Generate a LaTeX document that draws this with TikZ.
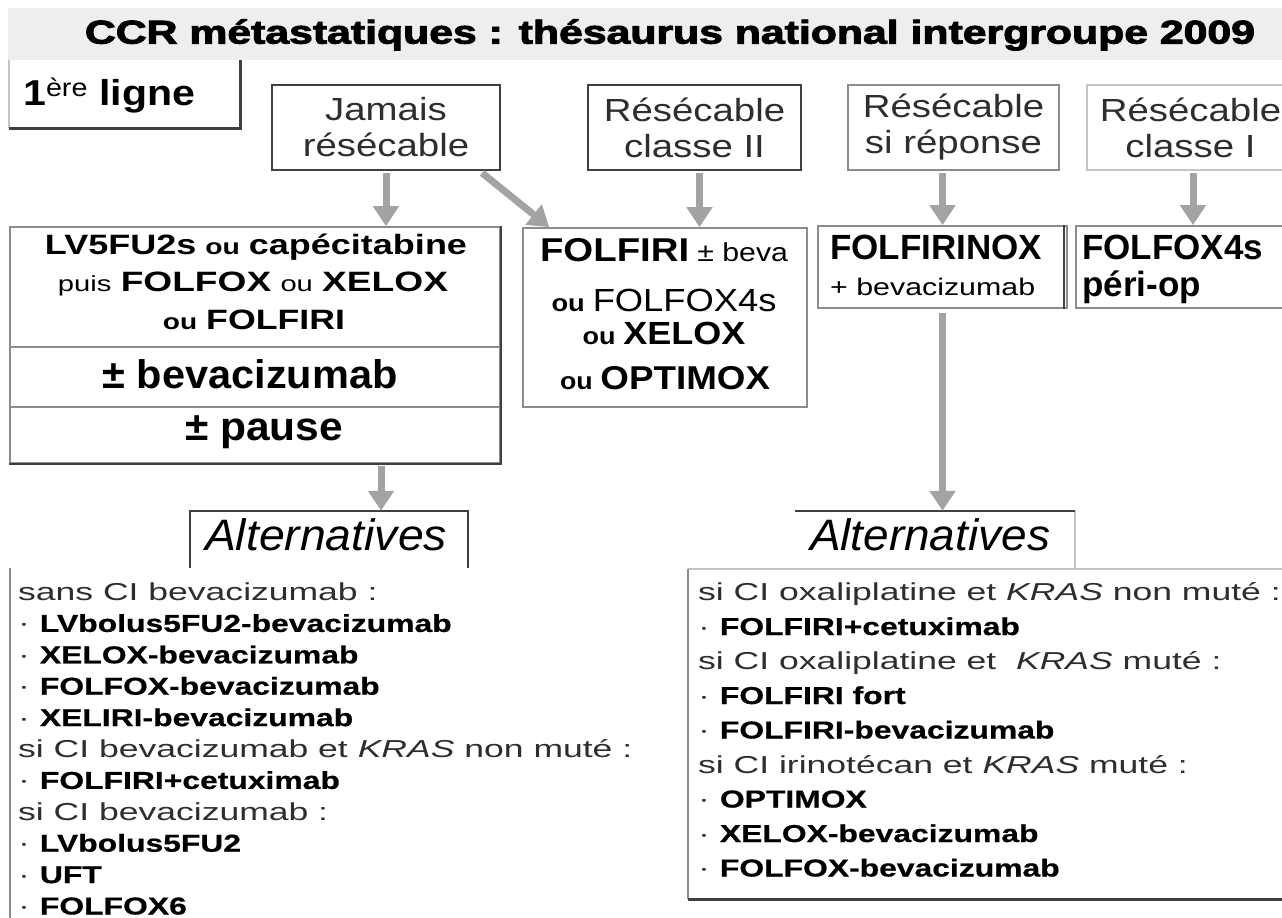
\documentclass[tikz,border=0pt]{standalone}
\usepackage{fontspec}
\usepackage{graphicx}
\setmainfont{Liberation Sans}
\newfontfamily\lstfont[FakeStretch=1.45]{Liberation Sans}
\newfontfamily\lstbfont[FakeStretch=1.3,FakeBold=0.6]{Liberation Sans}
\newfontfamily\wfont[FakeStretch=1.2]{Liberation Sans}
\newfontfamily\ttlfont[FakeBold=2.5]{Liberation Sans}
\usetikzlibrary{arrows.meta}
\newcommand\hw[2]{\resizebox{#1pt}{\height}{#2}}
\newcommand\fsz[1]{\fontsize{#1}{#1}\selectfont}
\newcommand\bu[1]{·\ {\lstbfont\bfseries\color{black}#1}}
\newcommand\gap{\hspace{7pt}}
\definecolor{edge}{HTML}{404040}
\definecolor{mid}{HTML}{8C8C8C}
\definecolor{light}{HTML}{C4C4C4}
\definecolor{arrowc}{HTML}{A3A3A3}
\definecolor{band}{HTML}{EEEEEE}
\definecolor{txt}{HTML}{2E2E2E}
\begin{document}
\begin{tikzpicture}[x=1pt,y=-1pt,
  box/.style={draw=edge, line width=1.8pt, inner sep=0pt},
  hid/.style={inner sep=0pt},
  lbl/.style={inner sep=0pt, align=center},
  arr/.style={draw=arrowc, line width=7pt, -{Triangle[length=20pt,width=25pt]}},
  lst/.style={inner sep=0pt, anchor=base west, font=\lstfont\fsz{24.5}, text=txt}]

\useasboundingbox (0,0) rectangle (1282,918);
\fill[white] (0,0) rectangle (1282,918);

% title band
\node[hid, fill=band, minimum width=1274pt, minimum height=52pt] (band) at (645,34) {};
\node[lbl] (title) at (670,35) {\hw{1170}{\ttlfont\bfseries\fsz{33}CCR métastatiques : thésaurus national intergroupe 2009}};

% 1ere ligne
\node[hid, minimum width=231pt, minimum height=68pt] (first) at (124.5,94) {};
\draw[light, line width=1.6pt] (first.north west) -- (first.south west);
\draw[edge, line width=2.6pt] (first.south west) -- (first.south east) -- (first.north east);
\node[lbl, anchor=west] (firstt) at (23,96) {\hw{172}{\bfseries\fsz{36}1\textsuperscript{\mdseries ère} ligne}};

% top boxes
\node[box, minimum width=228pt, minimum height=85pt] (jam) at (386,127.5) {};
\node[box, minimum width=213pt, minimum height=85pt] (c2) at (694.5,127.5) {};
\node[box, draw=mid, minimum width=211pt, minimum height=85pt] (rep) at (953.5,127.5) {};
\node[box, draw=light, minimum width=223pt, minimum height=85pt] (c1) at (1198.5,127.5) {};
\foreach \n/\a/\b in {jam/Jamais/résécable, c2/Résécable/classe II, rep/Résécable/si réponse}
  \node[lbl, font=\wfont\fontsize{32}{36}\selectfont, text=txt] (\n t) at (\n.center) {\a\\\b};
\node[lbl, font=\wfont\fontsize{32}{36}\selectfont, text=txt] (c1t) at ([xshift=-8pt]c1.center) {Résécable\\classe I};

% first-line regimens
\node[box, draw=mid, minimum width=490pt, minimum height=236pt] (lv) at (255,345) {};
\draw[mid, line width=1.8pt] (lv.west |- 0,347) -- (lv.east |- 0,347);
\draw[mid, line width=1.8pt] (lv.west |- 0,407) -- (lv.east |- 0,407);
\draw[edge, line width=2.4pt] (lv.south west) -- (lv.south east) -- (lv.north east);
\node[lbl] (lv1) at (256,247) {\hw{422}{\bfseries\fsz{28}LV5FU2s\gap{\fsz{22}ou}\gap capécitabine}};
\node[lbl] (lv2) at (253,284) {\hw{390}{{\fsz{22}puis}\gap{\bfseries\fsz{28}FOLFOX}\gap{\fsz{22}ou}\gap{\bfseries\fsz{28}XELOX}}};
\node[lbl] (lv3) at (254,320) {\hw{182}{{\bfseries\fsz{22}ou}\gap{\bfseries\fsz{28}FOLFIRI}}};
\node[lbl] (lv4) at (250,374) {\hw{295}{\bfseries\fsz{40}± bevacizumab}};
\node[lbl] (lv5) at (264,432) {\hw{158}{\bfseries\fsz{40}± pause}};

\node[box, draw=mid, minimum width=284pt, minimum height=179pt] (ffi) at (665,317.5) {};
\node[lbl] (ffi1) at (664,250) {\hw{248}{{\bfseries\fsz{33}FOLFIRI}\gap{\fsz{26}± beva}}};
\node[lbl] (ffi2) at (664,300) {\hw{225}{{\bfseries\fsz{24}ou}\gap{\fsz{32}FOLFOX4s}}};
\node[lbl] (ffi3) at (664,333) {\hw{163}{{\bfseries\fsz{24}ou}\gap{\bfseries\fsz{32}XELOX}}};
\node[lbl] (ffi4) at (665,378) {\hw{210}{{\bfseries\fsz{24}ou}\gap{\bfseries\fsz{33}OPTIMOX}}};

\node[box, draw=mid, minimum width=249pt, minimum height=82pt] (fnx) at (942.5,267) {};
\draw[edge, line width=1.6pt] ([xshift=-4pt]fnx.north east) -- ([xshift=-4pt]fnx.south east);
\node[lbl, anchor=west] (fnx1) at (830,247) {\bfseries\fsz{35}FOLFIRINOX};
\node[lbl, anchor=west] (fnx2) at (830,287) {\hw{205}{\fsz{24}+ bevacizumab}};

\node[box, draw=mid, minimum width=234pt, minimum height=82pt] (fx4) at (1193,267) {};
\node[lbl, anchor=west] (fx41) at (1082,247) {\bfseries\fsz{35}FOLFOX4s};
\node[lbl, anchor=west] (fx42) at (1082,287) {\bfseries\fsz{35}péri-op};

% alternatives tabs
\node[hid, minimum width=278pt, minimum height=57pt] (altL) at (329,539.5) {};
\draw[edge, line width=1.8pt] (altL.south west) -- (altL.north west) -- (altL.north east) -- (altL.south east);
\node[lbl] (altLt) at (326,535) {\hw{242}{\itshape\fsz{44}Alternatives}};

\node[hid, minimum width=280pt, minimum height=58pt] (altR) at (935,540) {};
\draw[light, line width=1.6pt] (altR.south west) -- (altR.south east) -- (altR.north east);
\draw[edge, line width=1.8pt] (altR.north west) -- (altR.north east);
\node[lbl] (altRt) at (930,535) {\hw{240}{\itshape\fsz{44}Alternatives}};

% list frames
\node[hid, minimum width=490pt, minimum height=350pt] (lstL) at (255,743) {};
\draw[mid, line width=1.8pt] (lstL.north west) -- (lstL.south west);
\node[hid, minimum width=622pt, minimum height=330pt] (lstR) at (999,734) {};
\draw[light, line width=1.4pt] (lstR.north west) -- (lstR.north east);
\draw[mid, line width=1.8pt] (lstR.north west) -- (lstR.south west);
\draw[edge, line width=2.6pt] (lstR.south west) -- (lstR.south east);

% left list
\node[lst] (l1) at (18,600.5) {sans CI bevacizumab :};
\node[lst] (l2) at (18,631.9) {\bu{LVbolus5FU2-bevacizumab}};
\node[lst] (l3) at (18,663.3) {\bu{XELOX-bevacizumab}};
\node[lst] (l4) at (18,694.7) {\bu{FOLFOX-bevacizumab}};
\node[lst] (l5) at (18,726.1) {\bu{XELIRI-bevacizumab}};
\node[lst] (l6) at (18,757.5) {si CI bevacizumab et \textit{KRAS} non muté :};
\node[lst] (l7) at (18,788.9) {\bu{FOLFIRI+cetuximab}};
\node[lst] (l8) at (18,820.3) {si CI bevacizumab :};
\node[lst] (l9) at (18,851.7) {\bu{LVbolus5FU2}};
\node[lst] (l10) at (18,883.1) {\bu{UFT}};
\node[lst] (l11) at (18,914.5) {\bu{FOLFOX6}};

% right list
\node[lst] (r1) at (698,600.5) {si CI oxaliplatine et \textit{KRAS} non muté :};
\node[lst] (r2) at (698,635) {\bu{FOLFIRI+cetuximab}};
\node[lst] (r3) at (698,669.5) {si CI oxaliplatine et \ \textit{KRAS} muté :};
\node[lst] (r4) at (698,704) {\bu{FOLFIRI fort}};
\node[lst] (r5) at (698,738.5) {\bu{FOLFIRI-bevacizumab}};
\node[lst] (r6) at (698,773) {si CI irinotécan et \textit{KRAS} muté :};
\node[lst] (r7) at (698,807.5) {\bu{OPTIMOX}};
\node[lst] (r8) at (698,842) {\bu{XELOX-bevacizumab}};
\node[lst] (r9) at (698,876.5) {\bu{FOLFOX-bevacizumab}};

% arrows
\draw[arr] ([yshift=-2pt]jam.south) -- (lv.north -| jam.south);
\draw[arr] ([xshift=96pt,yshift=-2pt]jam.south) -- ([xshift=27pt]ffi.north west);
\draw[arr] ([xshift=5pt,yshift=-2pt]c2.south) -- ([xshift=5pt]ffi.north -| c2.south);
\draw[arr] ([yshift=-2pt]fnx.north |- rep.south) -- (fnx.north);
\draw[arr] ([yshift=-2pt]fx4.north |- c1.south) -- (fx4.north);
\coordinate (lvo) at ([xshift=126pt,yshift=-2pt]lv.south);
\draw[arr] (lvo) -- (lvo |- altL.north);
\draw[arr] ([yshift=-4pt]fnx.south) -- (fnx.south |- altR.north);
\end{tikzpicture}
\end{document}
